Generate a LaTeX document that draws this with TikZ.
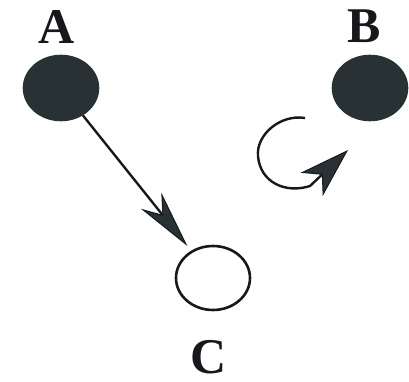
\documentclass[tikz,border=0pt]{standalone}
\usepackage{fontspec}
\setmainfont{Liberation Serif}
\usetikzlibrary{arrows.meta,shapes.geometric}
\definecolor{ink}{RGB}{22,24,28}
\definecolor{slate}{RGB}{40,50,53}
\tikzset{
  state/.style={ellipse,draw=ink,line width=2.6pt,minimum width=74pt,minimum height=64pt,inner sep=0pt},
  filled/.style={state,fill=slate,draw=slate},
  caption/.style={inner sep=0pt,font=\fontsize{50}{50}\selectfont\bfseries,text=ink},
  conn/.style={draw=ink,line width=2.4pt},
  bigtip/.style={-{Stealth[length=58pt,width=26pt,inset=18pt,fill=slate,line width=1pt]}},
  looptip/.style={-{Stealth[length=50pt,width=32pt,inset=14pt,fill=slate,line width=1pt]}}
}
\begin{document}
\begin{tikzpicture}[x=1pt,y=-1pt]
  \useasboundingbox (0,0) rectangle (409,382);
  % states
  \node[filled] (A) at (61,88) {};
  \node[filled] (B) at (370,88) {};
  \node[state] (C) at (213,278) {};
  % labels
  \node[caption] (la) at (57,27) {A};
  \node[caption] (lb) at (364,26) {B};
  \node[caption] (lc) at (209,357) {C};
  % transition A to C
  \draw[conn,bigtip,shorten >=6pt] (A) -- (C);
  % loop near B
  \coordinate (ls) at (305,118);
  \coordinate (le) at (348,150);
  \draw[conn,looptip] (ls) .. controls (280,114) and (256,135) .. (258,156)
        .. controls (260,182) and (285,194) .. (310,186) -- (le);
\end{tikzpicture}
\end{document}
